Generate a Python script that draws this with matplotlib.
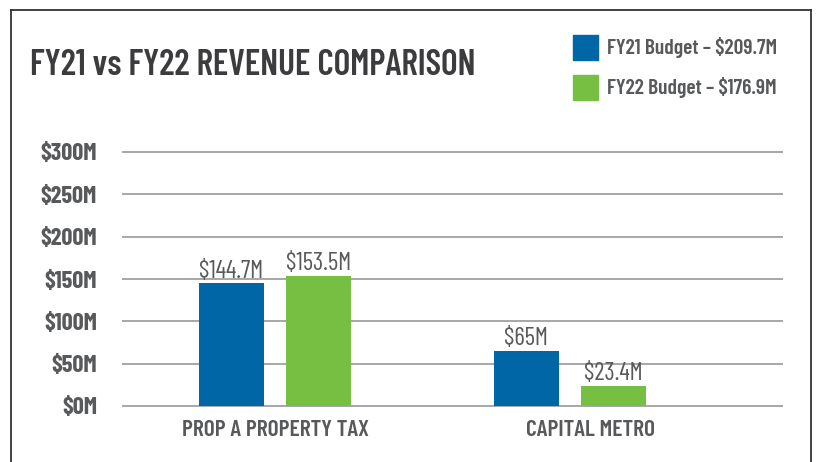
import matplotlib as mpl
mpl.use('Agg')
import matplotlib.pyplot as plt
from matplotlib.patches import Rectangle
from matplotlib.lines import Line2D
from matplotlib.transforms import ScaledTranslation

mpl.rc('font', family=['Barlow Condensed', 'DejaVu Sans'])

categories = ['PROP A PROPERTY TAX', 'CAPITAL METRO']
fy21 = [144.7, 65.0]
fy22 = [153.5, 23.4]
fy21_labels = ['$144.7M', '$65M']
fy22_labels = ['$153.5M', '$23.4M']
series_names = ['FY21 Budget – $209.7M', 'FY22 Budget – $176.9M']
yticks = [0, 50, 100, 150, 200, 250, 300]
ytick_labels = ['$%dM' % v for v in yticks]

blue = '#0066a6'
green = '#76bf43'
text_gray = '#58595b'
title_gray = '#3c3c3e'
grid_gray = '#a0a0a0'

W, H = 817, 462
fig = plt.figure(figsize=(W / 100, H / 100), dpi=100)
fig.patch.set_facecolor('white')

# axes placed in pixel terms: x 122..783, y(0)=406, y(300)=152
ppu = (406 - 152) / 300.0
ylo, yhi = -3, 305
top_px = 406 - yhi * ppu
bot_px = 406 - ylo * ppu
ax = fig.add_axes([122 / W, (H - bot_px) / H, (783 - 122) / W, (bot_px - top_px) / H])

x = range(len(categories))
off = 0.148
bw = 0.222
xs1 = [i - off for i in x]
xs2 = [i + off for i in x]
b1 = ax.bar(xs1, fy21, width=bw, color=blue, zorder=3)
b2 = ax.bar(xs2, fy22, width=bw, color=green, zorder=3)

for bars, labs in ((b1, fy21_labels), (b2, fy22_labels)):
    for rect, lab in zip(bars, labs):
        ax.text(rect.get_x() + rect.get_width() / 2, rect.get_height() + 1.0, lab,
                ha='center', va='bottom', fontsize=18, color=text_gray)

ax.set_xlim((122 - 275) / 295.0, (783 - 275) / 295.0)
ax.set_ylim(ylo, yhi)
ax.set_yticks(yticks)
ax.set_yticklabels(ytick_labels, fontsize=17.5, fontweight='bold', color=text_gray)
ax.set_xticks(list(x))
ax.set_xticklabels(categories, fontsize=17, fontweight='semibold', color=text_gray)
ax.tick_params(axis='both', length=0)
ax.tick_params(axis='y', pad=18)
ax.tick_params(axis='x', pad=8)
ax.grid(axis='y', color=grid_gray, linewidth=1.3, zorder=0)
ax.set_axisbelow(True)
for s in ax.spines.values():
    s.set_visible(False)

# second category label sits a little right of its bars in the original
lbl = ax.get_xticklabels()[1]
lbl.set_transform(lbl.get_transform() + ScaledTranslation(0.21, 0, fig.dpi_scale_trans))

# title
fig.text(30 / W, 1 - 65 / H, 'FY21 vs FY22 REVENUE COMPARISON', fontsize=25.5,
         fontweight='semibold', color=title_gray, ha='left', va='center')

# legend
for i, (name, col) in enumerate(zip(series_names, [blue, green])):
    yc = 47 + i * 41
    fig.patches.append(Rectangle((573 / W, 1 - (yc + 12.5) / H), 25 / W, 25 / H,
                                 transform=fig.transFigure, color=col))
    fig.text(607 / W, 1 - yc / H, name, fontsize=15.5, fontweight='semibold',
             color=text_gray, ha='left', va='center')

# frame
for xx, yy in (([11, 11], [10, 462]), ([11, 811], [10, 10]), ([811, 811], [10, 462])):
    fig.add_artist(Line2D([v / W for v in xx], [1 - v / H for v in yy],
                          color='#333333', linewidth=1.3))

plt.savefig('out.png', dpi=100)
